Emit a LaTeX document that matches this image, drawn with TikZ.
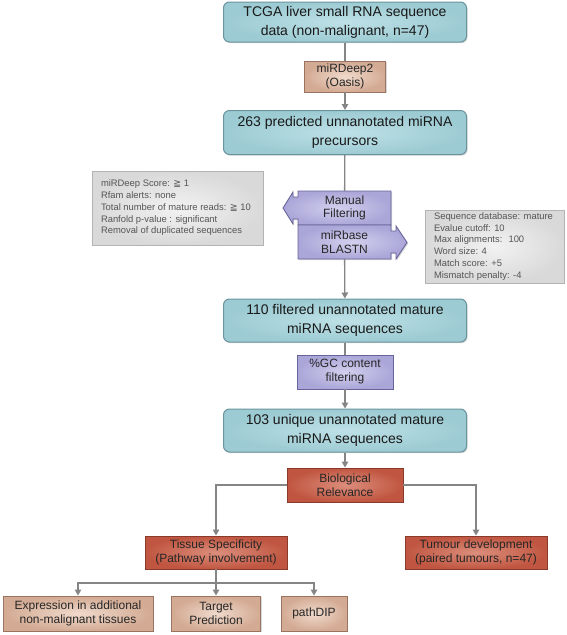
\documentclass[tikz,border=0pt]{standalone}
\usepackage{fontspec}
\setmainfont{Liberation Sans}
\newfontfamily\symfont{DejaVu Sans}
\usetikzlibrary{arrows.meta,shadows}

\definecolor{tealIn}{HTML}{BEE1E7}
\definecolor{tealOut}{HTML}{9DCBD3}
\definecolor{tealLine}{HTML}{6A949D}
\definecolor{tanIn}{HTML}{F0DACC}
\definecolor{tanOut}{HTML}{D3AA93}
\definecolor{tanLine}{HTML}{9A7361}
\definecolor{purIn}{HTML}{D2D0EE}
\definecolor{purOut}{HTML}{AAA6D8}
\definecolor{purLine}{HTML}{66649A}
\definecolor{redIn}{HTML}{DC8E7C}
\definecolor{redOut}{HTML}{C05641}
\definecolor{redLine}{HTML}{8A3A2B}
\definecolor{grayIn}{HTML}{F2F2F2}
\definecolor{grayOut}{HTML}{D9D9D9}
\definecolor{grayLine}{HTML}{B3B3B3}
\definecolor{grayText}{HTML}{555555}
\definecolor{connCol}{HTML}{858585}

\tikzset{
  base/.style={inner sep=0pt, align=center,
    drop shadow={shadow xshift=1.2pt,shadow yshift=-1.2pt,opacity=0.3}},
  tealbox/.style={base, rounded corners=6pt, draw=tealLine, line width=1pt,
    inner color=tealIn, outer color=tealOut, text=black!90,
    font=\fontsize{14}{19}\selectfont, minimum width=243pt},
  tanbox/.style={base, draw=tanLine, line width=0.9pt,
    inner color=tanIn, outer color=tanOut, text=black!85,
    font=\fontsize{12}{14}\selectfont},
  purbox/.style={base, draw=purLine, line width=0.9pt,
    inner color=purIn, outer color=purOut, text=black!85,
    font=\fontsize{12}{14}\selectfont},
  purshape/.style={draw=purLine, line width=0.9pt, inner color=purIn, outer color=purOut,
    drop shadow={shadow xshift=1.2pt,shadow yshift=-1.2pt,opacity=0.3}},
  purtext/.style={inner sep=0pt, align=center, text=black!85,
    font=\fontsize{12}{13.5}\selectfont},
  redbox/.style={base, draw=redLine, line width=0.9pt,
    inner color=redIn, outer color=redOut, text=black!85,
    font=\fontsize{12}{14}\selectfont},
  graybox/.style={base, draw=grayLine, line width=0.8pt,
    inner color=grayIn, outer color=grayOut, text=grayText,
    font=\fontsize{9.4}{11.7}\selectfont},
  conn/.style={draw=connCol, line width=1.3pt},
  arr/.style={conn, -{Triangle[length=6pt,width=6.5pt]}, shorten >=0pt},
}

\begin{document}
\begin{tikzpicture}[x=1pt,y=-1pt]
\useasboundingbox (0,0) rectangle (567,635);

% teal main boxes
\node[tealbox, minimum height=40pt] (top) at (345,22) {TCGA liver small RNA sequence\\data (non-malignant, n=47)};
\node[tealbox, minimum height=44pt] (p263) at (345,132.5) {263 predicted unnanotated miRNA\\precursors};
\node[tealbox, minimum height=43pt] (p110) at (345,320.5) {110 filtered unannotated mature\\miRNA sequences};
\node[tealbox, minimum height=43pt] (p103) at (345,430.5) {103 unique unannotated mature\\miRNA sequences};

% tan
\node[tanbox, minimum width=81pt, minimum height=31pt] (m1) at (345,76.5) {miRDeep2\\(Oasis)};

% purple arrow shapes
\path[purshape] (391,191) -- (298,191) -- (298,197) -- (293,197) -- (293,192) -- (283,208)
   -- (293,224) -- (293,219) -- (298,219) -- (298,225) -- (391,225) -- cycle;
\path[purshape] (298,225) -- (391,225) -- (391,231) -- (396,231) -- (396,226) -- (407,242.5)
   -- (396,259) -- (396,253) -- (391,253) -- (391,259) -- (298,259) -- cycle;
\node[purtext, minimum width=93pt, minimum height=34pt] (manual) at (344.5,208) {Manual\\Filtering};
\node[purtext, minimum width=93pt, minimum height=34pt] (blastn) at (344.5,242) {miRbase\\BLASTN};

% gray info boxes
\node[graybox, minimum width=171pt, minimum height=74pt] (lgray) at (177.5,208)
 {\makebox[153pt][l]{\begin{tabular}{@{}l@{}}
  miRDeep Score: {\symfont ≧} 1\\
  Rfam alerts: none\\
  Total number of mature reads: {\symfont ≧} 10\\
  Ranfold p-value : significant\\
  Removal of duplicated sequences\end{tabular}}};
\node[graybox, minimum width=139pt, minimum height=73pt] (rgray) at (494.5,246.5)
 {\makebox[121pt][l]{\begin{tabular}{@{}l@{}}
  Sequence database: mature\\
  Evalue cutoff: 10\\
  Max alignments: \ 100\\
  Word size: 4\\
  Match score: +5\\
  Mismatch penalty: -4\end{tabular}}};

\node[purbox, minimum width=96pt, minimum height=34pt] (gc) at (345,372) {\%GC content\\filtering};

% red
\node[redbox, minimum width=116pt, minimum height=34pt] (bio) at (345,485) {Biological\\Relevance};
\node[redbox, minimum width=142pt, minimum height=33pt] (tissue) at (216,552.5) {Tissue Specificity\\(Pathway involvement)};
\node[redbox, minimum width=142pt, minimum height=33pt] (tumour) at (476,552.5) {Tumour development\\(paired tumours, n=47)};

% bottom tan
\node[tanbox, minimum width=150pt, minimum height=35pt] (expr) at (78,613.5) {Expression in additional\\non-malignant tissues};
\node[tanbox, minimum width=89pt, minimum height=35pt] (target) at (216,613.5) {Target\\Prediction};
\node[tanbox, minimum width=66pt, minimum height=35pt] (pathdip) at (314,613.5) {pathDIP};

% connectors
\draw[conn] (top) -- (m1);
\draw[arr] (m1) -- (p263);
\draw[conn] (p263) -- (manual);
\draw[arr] (blastn) -- (p110);
\draw[conn] (p110) -- (gc);
\draw[arr] (gc) -- (p103);
\draw[arr] (p103) -- (bio);
\draw[arr] (bio.west) -| (tissue.north);
\draw[arr] (bio.east) -| (tumour.north);
\coordinate (hub) at (216,583);
\draw[arr] (tissue) -- (target);
\draw[arr] (hub) -| (expr.north);
\draw[arr] (hub) -| (pathdip.north);
\end{tikzpicture}
\end{document}
